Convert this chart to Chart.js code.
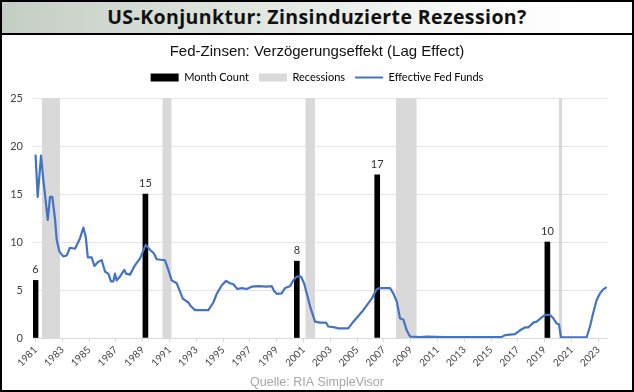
<!DOCTYPE html>
<html lang="de">
<head>
<meta charset="utf-8">
<title>US-Konjunktur: Zinsinduzierte Rezession?</title>
<script src="https://cdn.jsdelivr.net/npm/chart.js@4.4.0/dist/chart.umd.min.js"></script>
<style>
  html, body { margin: 0; padding: 0; background: #fff; }
  #wrap { position: relative; width: 634px; height: 392px; overflow: hidden; }
  #chart { position: absolute; left: 0; top: 0; }
  #kopf {
    position: absolute; left: 0; top: 0; width: 634px; height: 33px;
    border-bottom: 2px solid #000;
    background: linear-gradient(to right, #c4cdc4 0%, #e4e9e4 45%, #fbfcfb 80%, #fff 100%);
    font: bold 19.5px "Open Sans", Lato, sans-serif; letter-spacing: 0.4px;
    color: #111; text-align: center; line-height: 34px;
  }
  #rahmen { position: absolute; left: 0; top: 0; width: 634px; height: 392px;
    box-sizing: border-box; border: 2px solid #000; pointer-events: none; }
</style>
</head>
<body>
<div id="wrap">
  <canvas id="chart" width="634" height="392"></canvas>
  <div id="kopf">US-Konjunktur: Zinsinduzierte Rezession?</div>
  <div id="rahmen"></div>
</div>
<script>
// Achsen
const xTickLabels = ['1981', '1983', '1985', '1987', '1989', '1991', '1993', '1995', '1997', '1999', '2001',
  '2003', '2005', '2007', '2009', '2011', '2013', '2015', '2017', '2019', '2021', '2023'];
const yTickValues = [0, 5, 10, 15, 20, 25];

// Month Count (Balken)
const countYears = [1981.0, 1989.2, 2000.5, 2006.5, 2019.2];
const monthCounts = [6, 15, 8, 17, 10];

// Rezessionen (Beginn / Ende)
const recessionStart = [1981.46, 1990.46, 2001.13, 2007.9, 2020.04];
const recessionEnd = [1982.83, 1991.16, 2001.86, 2009.45, 2020.3];

// Effective Fed Funds
const fedYears = [1981.0, 1981.16, 1981.41, 1981.58, 1981.91, 1982.08, 1982.25, 1982.46, 1982.58, 1982.78,
  1983.07, 1983.33, 1983.57, 1983.95, 1984.32, 1984.57, 1984.75, 1984.9, 1985.19, 1985.39,
  1985.69, 1985.94, 1986.19, 1986.43, 1986.63, 1986.81, 1986.93, 1987.06, 1987.31, 1987.43,
  1987.63, 1987.75, 1988.05, 1988.43, 1988.8, 1989.22, 1989.54, 1989.84, 1990.04, 1990.66,
  1990.91, 1991.16, 1991.54, 1991.99, 1992.4, 1992.6, 1992.9, 1993.4, 1993.9, 1994.27,
  1994.52, 1994.9, 1995.22, 1995.51, 1995.76, 1996.06, 1996.39, 1996.76, 1997.13, 1997.63,
  1998.25, 1998.63, 1998.8, 1999.0, 1999.37, 1999.62, 1999.99, 2000.24, 2000.49, 2000.81,
  2001.04, 2001.24, 2001.49, 2001.86, 2002.24, 2002.68, 2002.85, 2003.35, 2003.6, 2004.34,
  2004.72, 2005.46, 2006.09, 2006.46, 2006.71, 2007.46, 2007.7, 2007.96, 2008.2, 2008.46,
  2008.7, 2008.95, 2009.7, 2010.19, 2011.5, 2012.68, 2014.0, 2015.79, 2016.04, 2016.78,
  2017.16, 2017.53, 2017.78, 2018.15, 2018.4, 2018.78, 2019.02, 2019.4, 2019.64, 2019.9,
  2020.07, 2020.22, 2020.64, 2022.13, 2022.38, 2022.62, 2022.88, 2023.13, 2023.37, 2023.63];
const fedRates = [19.1, 14.7, 19.0, 16.5, 12.3, 14.7, 14.7, 12.3, 10.2, 9.0,
  8.5, 8.6, 9.4, 9.3, 10.4, 11.5, 10.5, 8.4, 8.4, 7.5,
  7.95, 8.1, 6.9, 6.7, 5.9, 5.9, 6.7, 6.0, 6.4, 6.7,
  7.1, 6.7, 6.6, 7.6, 8.3, 9.7, 9.2, 8.8, 8.2, 8.1,
  7.1, 6.0, 5.7, 4.1, 3.7, 3.3, 2.9, 2.9, 2.9, 3.7,
  4.6, 5.5, 5.95, 5.7, 5.6, 5.1, 5.2, 5.1, 5.35, 5.4,
  5.35, 5.4, 4.9, 4.6, 4.65, 5.2, 5.4, 6.0, 6.4, 6.4,
  5.7, 4.65, 3.3, 1.7, 1.6, 1.6, 1.2, 1.1, 1.0, 1.0,
  1.7, 2.9, 4.1, 5.07, 5.2, 5.2, 4.65, 3.8, 2.05, 1.9,
  0.8, 0.15, 0.1, 0.15, 0.1, 0.1, 0.1, 0.1, 0.3, 0.4,
  0.8, 1.1, 1.1, 1.6, 1.7, 2.15, 2.4, 2.4, 2.05, 1.5,
  1.4, 0.08, 0.08, 0.08, 1.2, 2.6, 3.95, 4.65, 5.07, 5.3];

const fedPoints = fedYears.map((x, i) => ({ x: x, y: fedRates[i] }));
const countPoints = countYears.map((x, i) => ({ x: x, y: monthCounts[i] }));
const yTop = yTickValues[yTickValues.length - 1];
const recessionPoints = [];
recessionStart.forEach((s, i) => {
  recessionPoints.push({ x: s, y: yTop }, { x: recessionEnd[i], y: yTop }, { x: recessionEnd[i], y: null });
});

// Zahlen über den Balken
const barLabels = {
  id: 'barLabels',
  afterDatasetsDraw(chart) {
    const meta = chart.getDatasetMeta(1);
    const ctx = chart.ctx;
    ctx.save();
    ctx.font = '11px Lato, sans-serif';
    ctx.fillStyle = '#333';
    ctx.textAlign = 'center';
    ctx.textBaseline = 'bottom';
    meta.data.forEach((bar, i) => {
      ctx.fillText(String(monthCounts[i]), bar.x, bar.y - 5);
    });
    ctx.restore();
  }
};

// etwas Abstand zwischen Legende und Diagramm
const legendSpacer = {
  id: 'legendSpacer',
  beforeInit(chart) {
    const origFit = chart.legend.fit;
    chart.legend.fit = function () {
      origFit.bind(chart.legend)();
      this.height += 5;
    };
  }
};

new Chart(document.getElementById('chart'), {
  data: {
    datasets: [
      {
        type: 'line',
        label: 'Effective Fed Funds',
        data: fedPoints,
        borderColor: '#4472c4',
        borderWidth: 2.2,
        pointRadius: 0,
        tension: 0,
        borderJoinStyle: 'round',
        order: 0
      },
      {
        type: 'bar',
        label: 'Month Count',
        data: countPoints,
        backgroundColor: '#000',
        barThickness: 5,
        order: 1
      },
      {
        type: 'line',
        label: 'Recessions',
        data: recessionPoints,
        borderWidth: 0,
        pointRadius: 0,
        backgroundColor: '#d9d9d9',
        fill: 'origin',
        spanGaps: false,
        order: 2
      }
    ]
  },
  options: {
    responsive: false,
    animation: false,
    devicePixelRatio: 1,
    layout: { padding: { top: 34, left: 2, right: 2, bottom: 2 } },
    plugins: {
      tooltip: { enabled: false },
      title: {
        display: true,
        text: 'Fed-Zinsen: Verzögerungseffekt (Lag Effect)',
        color: '#111',
        font: { family: '"Liberation Sans", Arial, sans-serif', size: 15, weight: 'normal' },
        padding: { top: 9, bottom: 1 }
      },
      subtitle: {
        display: true,
        position: 'bottom',
        text: 'Quelle: RIA SimpleVisor',
        color: '#a6a6a6',
        font: { family: '"Liberation Sans", Arial, sans-serif', size: 12.5 },
        padding: { top: 1, bottom: 0 }
      },
      legend: {
        position: 'top',
        labels: {
          usePointStyle: true,
          pointStyleWidth: 28,
          boxHeight: 8,
          padding: 10,
          color: '#222',
          font: { family: 'Lato, sans-serif', size: 11 },
          generateLabels: () => [
            { text: 'Month Count', fillStyle: '#000', strokeStyle: '#000', lineWidth: 0, pointStyle: 'rect', datasetIndex: 1 },
            { text: 'Recessions', fillStyle: '#d9d9d9', strokeStyle: '#d9d9d9', lineWidth: 0, pointStyle: 'rect', datasetIndex: 2 },
            { text: 'Effective Fed Funds', fillStyle: '#4472c4', strokeStyle: '#4472c4', lineWidth: 2, pointStyle: 'line', datasetIndex: 0 }
          ]
        }
      }
    },
    scales: {
      x: {
        type: 'linear',
        offset: false,
        min: 1980.81,
        max: 2023.65,
        afterBuildTicks: (s) => { s.ticks = xTickLabels.map(t => ({ value: Number(t) })); },
        afterFit: (s) => { s.height = 36; s.paddingLeft = 0; s.paddingRight = 0; },
        ticks: {
          autoSkip: false,
          minRotation: 45,
          maxRotation: 45,
          padding: 2,
          color: '#444',
          font: { family: 'Lato, sans-serif', size: 10 },
          callback: (v) => String(v)
        },
        grid: { offset: false, drawOnChartArea: false, drawTicks: true, tickLength: 4, color: '#d9d9d9' },
        border: { display: true, color: '#d9d9d9' }
      },
      y: {
        min: yTickValues[0],
        max: yTop,
        afterBuildTicks: (s) => { s.ticks = yTickValues.map(v => ({ value: v })); },
        afterFit: (s) => { s.width = 31; },
        ticks: {
          padding: 10,
          color: '#444',
          font: { family: 'Lato, sans-serif', size: 11 }
        },
        grid: { color: '#e4e4e4', drawTicks: false },
        border: { display: false }
      },
      yRechts: {
        position: 'right',
        afterFit: (s) => { s.width = 25; },
        ticks: { display: false },
        grid: { display: false },
        border: { display: false }
      }
    }
  },
  plugins: [barLabels, legendSpacer]
});
</script>
</body>
</html>
